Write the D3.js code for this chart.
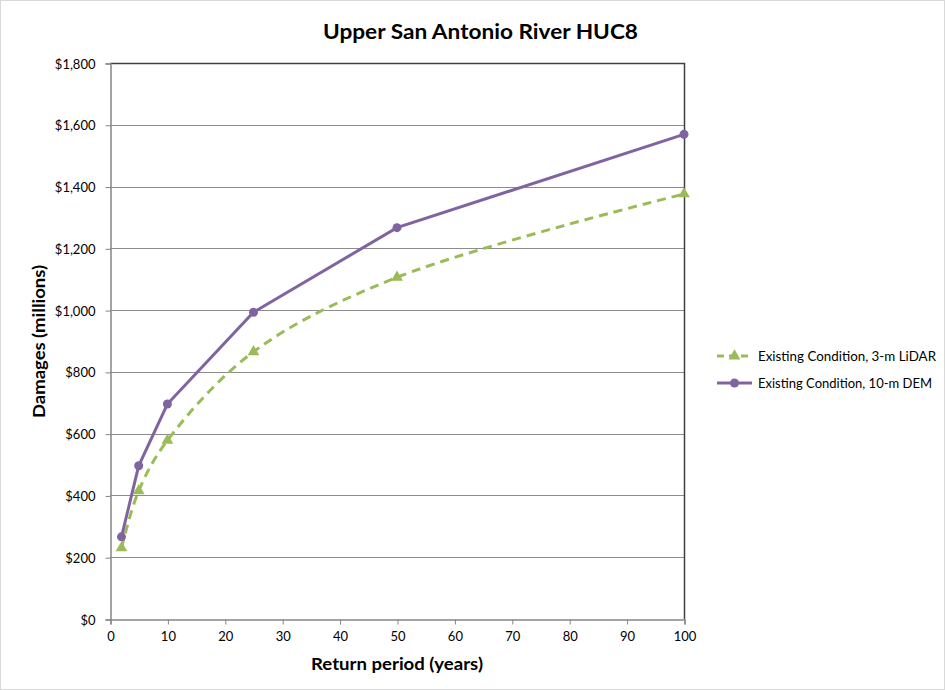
<!DOCTYPE html>
<html>
<head>
<meta charset="utf-8">
<script src="https://cdn.jsdelivr.net/npm/d3@7"></script>
<style>
  html, body { margin: 0; padding: 0; background: #fff; }
  svg { display: block; }
  text { font-family: Lato, "Open Sans", "Liberation Sans", sans-serif; fill: #000; }
</style>
</head>
<body>
<svg id="chart" width="945" height="690"></svg>
<script>
// Flood damages by return period for two terrain datasets
const returnPeriods = [2, 5, 10, 25, 50, 100];
const lidarDamages = [230, 415, 578, 865, 1106, 1376];
const demDamages = [266, 496, 696, 993, 1267, 1569];
const yTicks = [0, 200, 400, 600, 800, 1000, 1200, 1400, 1600, 1800];
const xTicks = [0, 10, 20, 30, 40, 50, 60, 70, 80, 90, 100];
const seriesNames = ["Existing Condition, 3-m LiDAR", "Existing Condition, 10-m DEM"];

const svg = d3.select("#chart");
const W = 945, H = 690;
const plot = { left: 110, right: 684, top: 63, bottom: 619 };

// outer frame
svg.append("rect").attr("x", 0.5).attr("y", 0.5).attr("width", W - 1).attr("height", H - 1)
  .attr("fill", "#fff").attr("stroke", "#d9d9d9");

const x = d3.scaleLinear().domain([0, 100]).range([plot.left, plot.right]);
const y = d3.scaleLinear().domain([0, 1800]).range([plot.bottom, plot.top]);

// horizontal gridlines
svg.append("g").selectAll("line").data(yTicks.slice(1)).join("line")
  .attr("x1", plot.left).attr("x2", plot.right)
  .attr("y1", d => Math.round(y(d)) + 0.5).attr("y2", d => Math.round(y(d)) + 0.5)
  .attr("stroke", "#8c8c8c").attr("stroke-width", 1);

// plot area border (top / right)
svg.append("path")
  .attr("d", `M${plot.left},${plot.top + 0.5}H${plot.right + 0.5}V${plot.bottom}`)
  .attr("fill", "none").attr("stroke", "#404040").attr("stroke-width", 1.5);

// y axis
const yAxis = d3.axisLeft(y).tickValues(yTicks).tickSize(5).tickPadding(10)
  .tickFormat(d => "$" + d3.format(",")(d));
const gy = svg.append("g").attr("transform", `translate(${plot.left + 0.5},0.5)`).call(yAxis);
gy.select(".domain").attr("stroke", "#868686").attr("stroke-width", 1.5);
gy.selectAll(".tick line").attr("stroke", "#868686");
gy.selectAll(".tick text").style("font-size", "13px").attr("dy", "0.35em");

// x axis
const xAxis = d3.axisBottom(x).tickValues(xTicks).tickSize(5).tickPadding(7);
const gx = svg.append("g").attr("transform", `translate(0.5,${plot.bottom + 0.5})`).call(xAxis);
gx.select(".domain").attr("stroke", "#868686").attr("stroke-width", 1.5);
gx.selectAll(".tick line").attr("stroke", "#868686");
gx.selectAll(".tick text").style("font-size", "13px");

// series
const green = "#9bbb59", purple = "#8064a2";
const lidarPts = returnPeriods.map((p, i) => [p, lidarDamages[i]]);
const demPts = returnPeriods.map((p, i) => [p, demDamages[i]]);

const smoothLine = d3.line().x(d => x(d[0])).y(d => y(d[1])).curve(d3.curveCatmullRom.alpha(0.5));
const straightLine = d3.line().x(d => x(d[0])).y(d => y(d[1]));

svg.append("path").datum(lidarPts).attr("d", smoothLine)
  .attr("fill", "none").attr("stroke", green).attr("stroke-width", 3)
  .attr("stroke-dasharray", "9,6");
svg.append("path").datum(demPts).attr("d", straightLine)
  .attr("fill", "none").attr("stroke", purple).attr("stroke-width", 3);

const tri = d3.symbol().type(d3.symbolTriangle).size(60);
svg.append("g").selectAll("path").data(lidarPts).join("path")
  .attr("d", tri).attr("transform", d => `translate(${x(d[0])},${y(d[1])})`)
  .attr("fill", green);
svg.append("g").selectAll("circle").data(demPts).join("circle")
  .attr("cx", d => x(d[0])).attr("cy", d => y(d[1])).attr("r", 4.5)
  .attr("fill", purple);

// title and axis titles
svg.append("text").attr("x", 480.5).attr("y", 39).attr("text-anchor", "middle")
  .attr("textLength", 315).attr("lengthAdjust", "spacingAndGlyphs")
  .style("font-size", "21px").style("font-weight", "bold").text("Upper San Antonio River HUC8");
svg.append("text").attr("x", 397).attr("y", 670).attr("text-anchor", "middle")
  .attr("textLength", 172).attr("lengthAdjust", "spacingAndGlyphs")
  .style("font-size", "17px").style("font-weight", "bold").text("Return period (years)");
svg.append("text").attr("transform", "translate(45,341.5) rotate(-90)").attr("text-anchor", "middle")
  .attr("textLength", 153).attr("lengthAdjust", "spacingAndGlyphs")
  .style("font-size", "17px").style("font-weight", "bold").text("Damages (millions)");

// legend
const legend = svg.append("g");
const rows = [
  { name: seriesNames[0], color: green, dash: "7,5", marker: "tri", y: 356, len: 178 },
  { name: seriesNames[1], color: purple, dash: null, marker: "circle", y: 383, len: 174 }
];
rows.forEach(r => {
  legend.append("line").attr("x1", 717).attr("x2", 752).attr("y1", r.y).attr("y2", r.y)
    .attr("stroke", r.color).attr("stroke-width", 3)
    .attr("stroke-dasharray", r.dash);
  if (r.marker === "tri") {
    legend.append("path").attr("d", tri).attr("transform", `translate(734.5,${r.y})`).attr("fill", r.color);
  } else {
    legend.append("circle").attr("cx", 734.5).attr("cy", r.y).attr("r", 4.5).attr("fill", r.color);
  }
  legend.append("text").attr("x", 758).attr("y", r.y).attr("dy", "0.35em")
    .attr("textLength", r.len).attr("lengthAdjust", "spacingAndGlyphs")
    .style("font-size", "13.5px").text(r.name);
});
</script>
</body>
</html>
